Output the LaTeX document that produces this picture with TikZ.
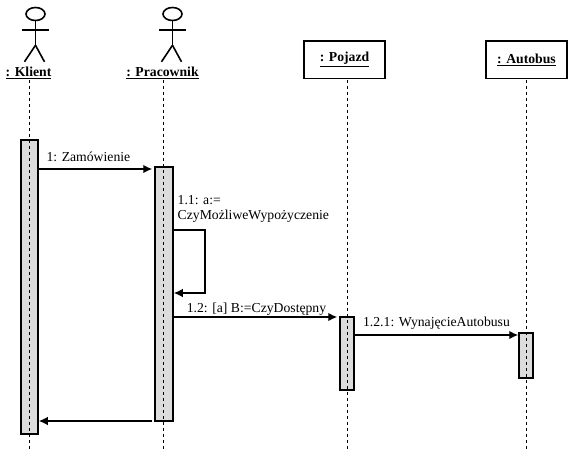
\documentclass[tikz,border=0pt]{standalone}
\usepackage{fontspec}
\setmainfont{Liberation Serif}
\usepackage{xcolor}
\usetikzlibrary{arrows.meta,positioning,shapes.geometric}
\definecolor{seqInk}{HTML}{000000}
\definecolor{seqBar}{HTML}{DCDCDC}
\begin{document}
\begin{tikzpicture}[
  x=1pt, y=-1pt,
  font=\fontsize{13.7pt}{15pt}\selectfont,
  objbox/.style={draw=seqInk, line width=1.8pt, minimum width=80.6pt, minimum height=37.5pt, fill=white, inner sep=0pt},
  objname/.style={font=\fontsize{13.7pt}{15pt}\selectfont\bfseries, inner sep=0pt},
  bar/.style={draw=seqInk, line width=1.5pt, fill=seqBar, minimum width=#1, inner sep=0pt},
  bar/.default=17pt,
  lifeline/.style={dashed, dash pattern=on 3pt off 3pt, line width=.8pt, draw=seqInk},
  msg/.style={-{Latex[length=9pt,width=8.5pt]}, line width=1.4pt, draw=seqInk},
  actorline/.style={line width=1.6pt, draw=seqInk},
  msglabel/.style={inner sep=0pt, outer sep=0pt, above=#1},
  msglabel/.default=2pt
]
  \useasboundingbox (0,0) rectangle (573,456);

  % actors
  \foreach \name/\x in {klient/35.5, pracownik/172.5} {
    \node[ellipse, draw=seqInk, line width=1.6pt, minimum width=19pt, minimum height=13pt, inner sep=0pt] (\name head) at (\x,14) {};
    \draw[actorline] (\name head.south) -- ++(0,24) coordinate (\name hip);
    \draw[actorline] (\x-13.5,30) -- (\x+13.5,30);
    \draw[actorline] (\name hip) -- ++(-11,16.5);
    \draw[actorline] (\name hip) -- ++(9,16.5);
  }
  \node[objname] (klient) at (28.5,73) {\underline{: Klient}};
  \node[objname] (pracownik) at (162.5,73) {\underline{: Pracownik}};
  \node[objbox] (pojazd) at (344.5,59.7) {\raisebox{-2.5pt}{\bfseries\underline{: Pojazd}}};
  \node[objbox, right=99.6pt of pojazd] (autobus) {\raisebox{-2.5pt}{\bfseries\underline{: Autobus}}};

  % activations
  \node[bar, minimum height=294pt] (klientbar) at (29.5,287) {};
  \node[bar=18pt, minimum height=254pt] (pracownikbar) at (164,294) {};
  \node[bar=14pt, minimum height=73pt] (pojazdbar) at (347,353.5) {};
  \node[bar=14pt, minimum height=45pt] (autobusbar) at (526,355.5) {};

  % lifelines
  \draw[lifeline] (29.5,80) -- (29.5,450);
  \draw[lifeline] (163.5,80) -- (163.5,450);
  \draw[lifeline] (347.5,80) -- (347.5,450);
  \draw[lifeline] (526.5,80) -- (526.5,450);

  % messages
  \coordinate (m1) at (0,169);
  \coordinate (m2a) at (205,230);
  \coordinate (m2b) at (205,293);
  \coordinate (m3) at (0,317);
  \coordinate (m4) at (0,335);
  \coordinate (m5) at (0,421);
  \draw[msg, shorten >=2pt] (klientbar.east |- m1) -- node[msglabel=7pt, pos=.43] {1: Zamówienie} (pracownikbar.west |- m1);
  \draw[msg] (pracownikbar.east |- m2a) -- (m2a) -- (m2b) -- (pracownikbar.east |- m2b);
  \node[inner sep=0pt, align=left, anchor=north west] (selflabel) at (177.5,195.5) {1.1: a:=\\CzyMożliweWypożyczenie};
  \draw[msg, shorten >=2pt] (pracownikbar.east |- m3) -- node[msglabel] {1.2: [a] B:=CzyDostępny} (pojazdbar.west |- m3);
  \draw[msg] (pojazdbar.east |- m4) -- node[msglabel=6pt] {1.2.1: WynajęcieAutobusu} (autobusbar.west |- m4);
  \draw[msg, shorten <=2pt] (pracownikbar.west |- m5) -- (klientbar.east |- m5);
\end{tikzpicture}
\end{document}
